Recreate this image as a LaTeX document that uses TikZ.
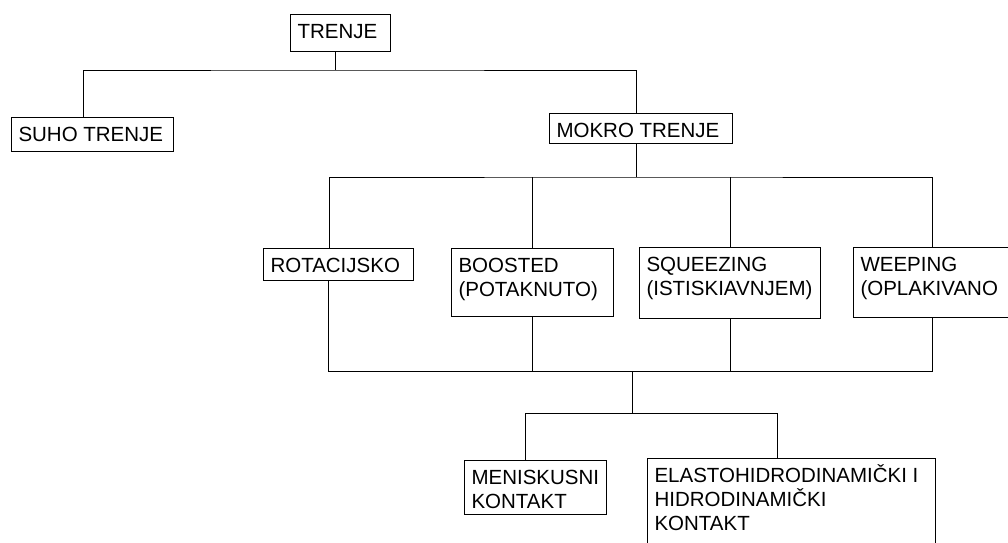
\documentclass[tikz,border=0pt]{standalone}
\usepackage{fontspec}
\setmainfont{Liberation Sans}
\usetikzlibrary{positioning}

\newcommand{\boxtxt}[3]{\parbox[c][#2pt][t]{#1pt}{\rule{0pt}{24pt}#3}}

\begin{document}
\begin{tikzpicture}[x=1pt,y=-1pt,line width=1pt,
		kutija/.style={draw,anchor=north west,inner xsep=7pt,inner ysep=0pt,
			font=\fontsize{20.5}{24}\selectfont}]
		\useasboundingbox (0,0) rectangle (1008,542);
		\node[kutija] (trenje) at (290,14) {\boxtxt{86}{37}{TRENJE}};
		\node[kutija] (suho) at (11,117) {\boxtxt{148}{34}{SUHO TRENJE}};
		\node[kutija] (mokro) at (549,113) {\boxtxt{169}{30}{MOKRO TRENJE}};
		\node[kutija] (rot) at (263,248) {\boxtxt{136}{32}{ROTACIJSKO}};
		\node[kutija] (boost) at (451,248) {\boxtxt{148}{68}{BOOSTED\\(POTAKNUTO)}};
		\node[kutija] (squeeze) at (639,247) {\boxtxt{167}{71}{SQUEEZING\\(ISTISKIAVNJEM)}};
		\node[kutija] (weep) at (853,247) {\boxtxt{143}{70}{WEEPING\\(OPLAKIVANO}};
		\node[kutija] (menisk) at (464,460) {\boxtxt{128}{54}{MENISKUSNI\\KONTAKT}};
		\node[kutija] (elasto) at (647,458) {\boxtxt{274}{100}{ELASTOHIDRODINAMIČKI I\\HIDRODINAMIČKI\\KONTAKT}};
		\draw ([xshift=-5pt]trenje.south) -- ++(0,18) coordinate (j1);
		\draw ([xshift=-9pt]suho.north) |- (j1) -| ([xshift=-5pt]mokro.north);
		\draw ([xshift=-5pt]mokro.south) -- ++(0,33) coordinate (j2);
		\draw ([xshift=-9pt]rot.north) |- (j2) -| (weep.north);
		\draw (boost.north) -- (boost.north |- j2);
		\draw (squeeze.north) -- (squeeze.north |- j2);
		\coordinate (j3) at (632,371);
		\draw ([xshift=-10pt]rot.south) |- (j3) -| (weep.south);
		\draw (boost.south) -- (boost.south |- j3);
		\draw (squeeze.south) -- (squeeze.south |- j3);
		\draw (j3) -- ++(0,42) coordinate (j4);
		\draw ([xshift=-10pt]menisk.north) |- (j4) -| ([xshift=-14pt]elasto.north);
	\end{tikzpicture}
\end{document}
